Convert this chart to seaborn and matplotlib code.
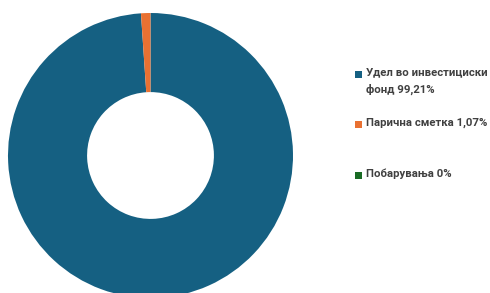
import numpy as np
import matplotlib
matplotlib.use('Agg')
import matplotlib.pyplot as plt
import seaborn as sns
from matplotlib.patches import Rectangle

# Data
categories = ['Удел во инвестициски\nфонд', 'Парична сметка', 'Побарувања']
values = [99.21, 1.07, 0.0]
value_labels = ['99,21%', '1,07%', '0%']
colors = ['#156082', '#E97132', '#196B24']

sns.set_theme(style='white')
plt.rcParams['font.family'] = ['Roboto', 'DejaVu Sans']

W, H = 490, 293
fig = plt.figure(figsize=(W / 100, H / 100), dpi=100)
fig.patch.set_facecolor('white')

# donut placement in pixels
cx, cy, r = 150.5, 155.5, 142.5
ax = fig.add_axes([(cx - r) / W, (H - cy - r) / H, 2 * r / W, 2 * r / H])
ax.pie(values, colors=colors, startangle=90, counterclock=False,
       wedgeprops=dict(width=0.555, linewidth=0), radius=1)
ax.set_xlim(-1, 1)
ax.set_ylim(-1, 1)
ax.set_aspect('equal')
ax.axis('off')

# fit legend font so the widest line is about 121 px
renderer = fig.canvas.get_renderer()
probe = fig.text(0, 0, 'Парична сметка 1,07%', fontsize=10, fontweight='bold')
pw = probe.get_window_extent(renderer).width
probe.remove()
fs = 10 * 121 / pw

# legend
legend_y = [74, 124, 175]  # pixel y of first line of each entry
for name, lab, col, y in zip(categories, value_labels, colors, legend_y):
    fig.patches.append(Rectangle((355 / W, 1 - (y + 4) / H), 7 / W, 7 / H,
                                 transform=fig.transFigure, facecolor=col,
                                 edgecolor='none'))
    fig.text(366 / W, 1 - (y - 6.5) / H, f'{name} {lab}', ha='left', va='top',
             fontsize=fs, fontweight='bold', color='#404040', linespacing=1.7)

fig.savefig('out.png', dpi=100)
